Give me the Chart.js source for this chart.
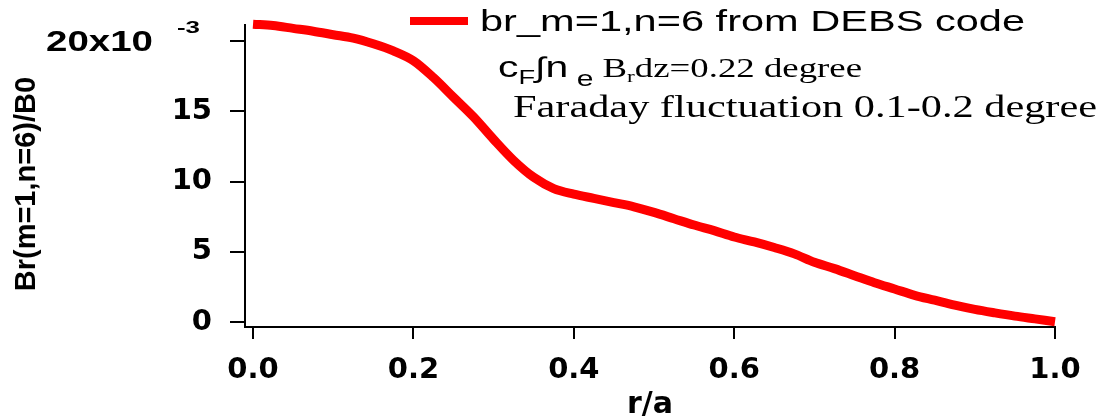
<!DOCTYPE html>
<html>
<head>
<meta charset="utf-8">
<script src="https://cdn.jsdelivr.net/npm/chart.js@4"></script>
<style>
  html, body { margin: 0; padding: 0; background: #fff; }
  #wrap { width: 1102px; height: 417px; }
</style>
</head>
<body>
<div id="wrap"><canvas id="chart"></canvas></div>
<script>
// r/a positions and Br(m=1,n=6)/B0 values (x10^-3)
const rPositions = [0, 0.025, 0.05, 0.075, 0.1, 0.125, 0.15, 0.175, 0.2, 0.225,
  0.25, 0.275, 0.3, 0.325, 0.35, 0.375, 0.4, 0.425, 0.45, 0.475,
  0.5, 0.525, 0.55, 0.575, 0.6, 0.625, 0.65, 0.675, 0.7, 0.725,
  0.75, 0.775, 0.8, 0.825, 0.85, 0.875, 0.9, 0.925, 0.95, 0.975, 1.0];
const brValues = [21.2, 21.1, 20.9, 20.7, 20.45, 20.2, 19.8, 19.3, 18.6, 17.4,
  16.0, 14.6, 13.0, 11.5, 10.3, 9.5, 9.1, 8.8, 8.5, 8.2,
  7.8, 7.35, 6.9, 6.5, 6.05, 5.7, 5.3, 4.85, 4.25, 3.8,
  3.3, 2.8, 2.35, 1.9, 1.55, 1.2, 0.9, 0.65, 0.42, 0.22, 0.02];
const xTickValues = [0, 0.2, 0.4, 0.6, 0.8, 1.0];
const yTickValues = [0, 5, 10, 15, 20];
const seriesLabel = "br_m=1,n=6 from DEBS code";

const RED = "#ff0000";

// draw a run of text pieces, squeezed/stretched to a given width
function drawRun(ctx, pieces, x, baseline, width) {
  let natural = 0;
  pieces.forEach(p => { ctx.font = p.font; natural += ctx.measureText(p.text).width; });
  const sx = width / natural;
  ctx.save();
  ctx.translate(x, 0);
  ctx.scale(sx, 1);
  let cx = 0;
  pieces.forEach(p => {
    ctx.font = p.font;
    ctx.fillText(p.text, cx, baseline + (p.dy || 0));
    cx += ctx.measureText(p.text).width;
  });
  ctx.restore();
}

const annotations = {
  id: "annotations",
  afterDraw(chart) {
    const ctx = chart.ctx;
    const y = chart.scales.y;
    ctx.save();
    ctx.fillStyle = "#000";
    ctx.textAlign = "left";
    ctx.textBaseline = "alphabetic";

    // axis multiplier at the top tick
    const y20 = y.getPixelForValue(20);
    drawRun(ctx, [{ text: "20x10", font: "bold 29px 'Liberation Sans'" }], 46, y20 + 10, 107);
    drawRun(ctx, [{ text: "-3", font: "bold 17px 'Liberation Sans'" }], 177, 33, 23);

    // legend
    const ds = chart.data.datasets[0];
    ctx.fillStyle = ds.borderColor;
    ctx.fillRect(410, 17, 58, 8);
    ctx.fillStyle = "#000";
    drawRun(ctx, [{ text: ds.label, font: "29px 'Liberation Sans'" }], 480, 31, 545);

    // integral line
    const A = "'Liberation Sans'", T = "'Liberation Serif'";
    drawRun(ctx, [
      { text: "c", font: "30px " + A },
      { text: "F", font: "20px " + A, dy: 7 },
      { text: "\u222B", font: "28px " + A },
      { text: "n", font: "30px " + A },
      { text: " e", font: "22px " + A, dy: 9 },
      { text: " B", font: "27px " + T },
      { text: "r", font: "17px " + T, dy: 5 },
      { text: "dz=0.22 degree", font: "27px " + T }
    ], 498, 77, 364);

    drawRun(ctx, [{ text: "Faraday fluctuation 0.1-0.2 degree", font: "31px " + T }], 513, 117, 584);
    ctx.restore();
  }
};

new Chart(document.getElementById("chart"), {
  type: "line",
  data: {
    datasets: [{
      label: seriesLabel,
      data: rPositions.map((r, i) => ({ x: r, y: brValues[i] })),
      borderColor: RED,
      backgroundColor: RED,
      borderWidth: 9,
      pointRadius: 0,
      cubicInterpolationMode: "monotone",
      clip: false,
    }],
  },
  options: {
    responsive: true,
    maintainAspectRatio: false,
    animation: false,
    layout: { padding: { top: 25, right: 47, left: 0, bottom: 0 } },
    plugins: {
      legend: { display: false },
      tooltip: { enabled: false },
    },
    scales: {
      x: {
        type: "linear",
        min: -0.01,
        max: 1.0,
        afterFit(scale) {
          scale.height = 90;
          scale.paddingLeft = 0;
          scale.paddingRight = 0;
        },
        afterBuildTicks(scale) { scale.ticks = xTickValues.map(v => ({ value: v })); },
        border: { display: true, color: "#000", width: 2 },
        grid: { drawOnChartArea: false, drawTicks: true, tickLength: 12, color: "#000", lineWidth: 2 },
        ticks: {
          color: "#000",
          padding: 14,
          maxRotation: 0,
          font: { family: "DejaVu Sans", weight: "bold", size: 29 },
          callback: v => v.toFixed(1),
        },
        title: {
          display: true,
          text: "r/a",
          color: "#000",
          font: { family: "DejaVu Sans", weight: "bold", size: 30, lineHeight: 0.8 },
          padding: { top: 0, bottom: 0 },
        },
      },
      y: {
        min: -0.356,
        max: 21.14,
        afterFit(scale) {
          scale.width = 245;
          scale.paddingTop = 0;
          scale.paddingBottom = 0;
        },
        afterBuildTicks(scale) { scale.ticks = yTickValues.map(v => ({ value: v })); },
        border: { display: true, color: "#000", width: 2 },
        grid: { drawOnChartArea: false, drawTicks: true, tickLength: 15, color: "#000", lineWidth: 2 },
        ticks: {
          color: "#000",
          padding: 18,
          font: { family: "DejaVu Sans", weight: "bold", size: 29 },
          callback: v => (v === 20 ? "" : v),
        },
        title: {
          display: true,
          text: "Br(m=1,n=6)/B0  ",
          color: "#000",
          font: { family: "Liberation Sans", weight: "bold", size: 29 },
          padding: { top: 10, bottom: 0 },
        },
      },
    },
  },
  plugins: [annotations],
});
</script>
</body>
</html>
